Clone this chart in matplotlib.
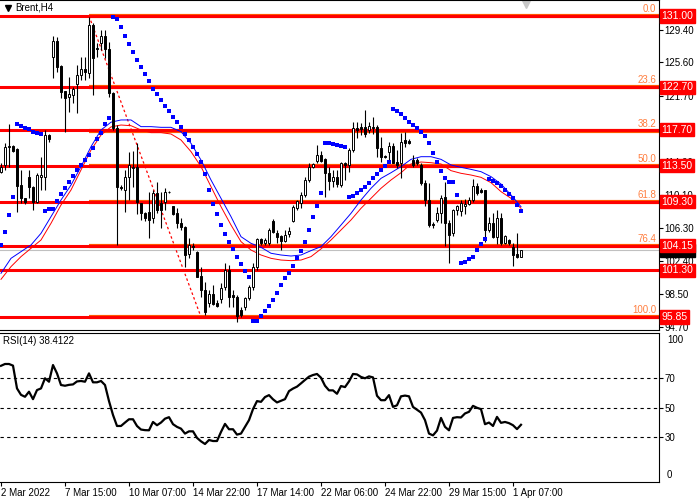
import matplotlib
matplotlib.use("Agg")
import matplotlib.pyplot as plt
import matplotlib.transforms as mtransforms
from matplotlib.patches import Rectangle

plt.rcParams['font.family'] = ['Liberation Sans', 'DejaVu Sans']

# H4 candles, one row per bar: open, high, low, close
opens = [112.82, 113.60, 115.74, 115.82, 115.43, 111.26, 109.71, 112.24, 111.07, 109.32,
         112.24, 112.24, 117.10, 126.25, 128.08, 125.16, 122.24, 121.58, 121.77, 123.06,
         124.07, 124.77, 124.38, 129.95, 127.22, 127.81, 128.66, 127.11, 122.05, 117.88,
         111.07, 110.68, 112.24, 113.21, 113.41, 109.12, 108.03, 108.15, 107.37, 110.29,
         109.12, 109.32, 110.49, 108.81, 108.03, 106.87, 106.40, 103.21, 104.10, 103.48,
         100.60, 99.00, 97.45, 98.54, 97.52, 97.91, 99.31, 101.34, 98.38, 98.22,
         96.67, 96.98, 98.03, 99.39, 101.73, 104.92, 104.45, 104.45, 107.10, 105.70,
         105.31, 104.76, 105.54, 107.10, 108.54, 109.20, 110.06, 111.85, 113.41, 114.11,
         114.73, 114.26, 112.63, 111.77, 112.24, 111.26, 113.87, 113.60, 115.35, 117.88,
         118.00, 118.08, 117.69, 118.08, 118.08, 115.55, 114.65, 115.16, 115.82, 113.99,
         113.80, 116.52, 116.40, 114.18, 114.18, 113.60, 111.46, 109.51, 106.70, 107.18,
         107.96, 109.90, 106.86, 105.62, 108.34, 108.23, 108.80, 109.10, 109.51, 111.15,
         110.70, 110.68, 106.01, 106.79, 105.23, 107.37, 104.50, 104.84, 104.06, 103.20,
         102.90]
highs = [113.79, 116.13, 118.40, 115.90, 115.60, 113.02, 109.80, 113.02, 111.20, 112.63,
         114.57, 117.69, 117.20, 128.66, 128.59, 125.28, 122.30, 123.92, 122.75, 125.28,
         126.25, 126.25, 130.90, 130.20, 127.81, 129.37, 129.37, 128.00, 122.10, 118.27,
         111.26, 113.02, 115.16, 115.27, 116.13, 109.20, 108.15, 110.49, 110.68, 111.65,
         110.49, 110.88, 110.60, 108.85, 108.54, 107.37, 106.50, 105.04, 104.45, 103.60,
         101.73, 99.98, 99.00, 99.59, 97.84, 99.86, 102.12, 101.92, 99.00, 98.40,
         97.06, 98.22, 99.55, 102.12, 105.11, 105.10, 105.04, 106.20, 107.26, 106.01,
         105.43, 106.01, 106.40, 108.93, 109.51, 110.49, 112.24, 113.79, 113.79, 115.94,
         115.20, 114.38, 113.41, 113.02, 113.02, 113.99, 113.99, 115.55, 118.66, 118.66,
         118.47, 120.02, 118.66, 119.17, 118.27, 116.91, 114.75, 116.33, 116.13, 115.35,
         117.30, 117.50, 116.60, 114.77, 114.40, 113.80, 111.85, 111.46, 107.00, 108.70,
         110.10, 111.65, 107.18, 108.50, 108.93, 109.51, 109.60, 109.90, 111.93, 111.50,
         110.90, 110.70, 107.57, 107.96, 108.34, 107.96, 105.40, 105.00, 104.45, 105.70,
         103.70]
lows = [112.63, 113.02, 113.41, 115.16, 108.15, 109.12, 109.05, 109.71, 108.35, 109.12,
        110.68, 110.68, 116.33, 123.72, 124.50, 121.39, 117.41, 119.83, 120.80, 119.63,
        123.53, 123.53, 123.72, 121.77, 126.25, 127.03, 126.06, 121.58, 117.70, 104.26,
        110.68, 108.15, 109.51, 111.07, 107.88, 107.18, 107.10, 105.04, 106.79, 107.96,
        106.20, 108.35, 110.30, 107.80, 106.20, 106.01, 101.73, 102.70, 103.67, 100.50,
        98.22, 96.08, 97.06, 97.25, 97.06, 97.45, 99.00, 97.06, 97.06, 95.31,
        95.89, 96.67, 97.84, 99.00, 101.34, 104.20, 104.26, 104.26, 105.62, 104.45,
        103.67, 104.65, 105.23, 106.98, 108.35, 108.54, 109.90, 111.65, 113.21, 113.79,
        113.99, 109.90, 110.68, 111.07, 111.07, 111.07, 111.85, 112.82, 115.16, 116.72,
        117.10, 116.91, 117.30, 117.22, 114.57, 113.99, 114.40, 113.79, 113.79, 113.20,
        112.05, 115.74, 116.00, 113.40, 113.60, 111.30, 108.80, 106.40, 106.30, 107.00,
        106.80, 104.10, 102.10, 105.30, 107.76, 107.64, 107.90, 108.90, 109.30, 110.10,
        110.30, 104.64, 105.80, 105.04, 104.37, 104.26, 104.40, 104.20, 101.84, 102.70,
        102.80]
closes = [113.41, 115.74, 115.82, 115.27, 111.19, 109.71, 109.32, 111.07, 109.32, 112.43,
          112.43, 117.10, 116.64, 128.08, 125.08, 122.16, 121.39, 121.89, 122.51, 124.11,
          124.77, 124.42, 129.95, 126.06, 127.15, 128.66, 127.11, 121.97, 117.88, 111.07,
          110.88, 112.24, 113.60, 113.41, 109.32, 107.96, 107.37, 107.18, 110.29, 108.35,
          108.35, 110.49, 110.45, 107.88, 106.79, 106.32, 103.09, 104.26, 104.07, 100.56,
          99.00, 96.47, 98.54, 97.37, 97.17, 99.20, 101.34, 98.22, 98.22, 96.01,
          96.08, 98.03, 99.39, 101.73, 104.92, 104.45, 104.84, 106.01, 105.81, 105.23,
          104.76, 105.43, 105.93, 108.73, 109.44, 110.06, 111.85, 113.41, 113.70, 114.77,
          114.11, 112.63, 111.77, 112.24, 111.38, 113.79, 113.60, 115.35, 117.88, 117.69,
          117.77, 117.22, 118.16, 117.88, 115.55, 114.57, 114.50, 115.82, 113.87, 113.60,
          116.30, 116.13, 116.20, 113.60, 113.80, 111.46, 109.51, 106.59, 106.60, 107.96,
          109.71, 106.86, 105.42, 108.34, 108.80, 109.13, 109.10, 109.50, 111.15, 110.29,
          110.50, 106.01, 106.79, 105.23, 107.37, 104.45, 105.30, 104.45, 103.04, 102.80,
          103.63]

# Parabolic SAR, one dot per bar
sar = [104.30, 105.80, 107.76, 109.83,
       118.40, 118.15, 117.92, 117.84, 117.45, 117.30, 117.18,
       108.23, 108.46, 108.46, 109.36, 110.21, 110.91, 111.61, 112.32, 112.98, 113.60,
       114.22, 114.81, 115.59, 116.64, 117.30, 118.35, 119.05,
       130.90, 130.70, 129.75, 128.66, 127.73, 126.80, 125.86, 125.00, 124.23, 123.41,
       122.47, 121.89, 121.19, 120.49, 119.91, 119.20, 118.62, 118.00,
       117.20, 116.50, 115.70, 114.90, 113.90, 112.60, 110.70, 109.10, 107.90, 106.60,
       105.60, 104.60, 103.80, 102.90, 102.00, 101.20, 100.50,
       95.35, 95.40, 96.00, 96.50, 97.10, 97.80, 98.70, 99.60, 100.40, 101.00,
       101.80, 102.70, 103.60, 104.60, 106.00, 107.50, 108.80, 110.30,
       116.13, 116.13, 116.05, 115.94, 115.82, 115.74,
       109.83, 109.98, 110.29, 110.68, 111.07, 111.54, 112.04, 112.55, 113.02, 113.50, 113.90,
       120.10, 119.94, 119.52, 119.09, 118.66, 118.27, 117.88, 117.42, 116.99, 116.20,
       115.04, 113.99, 112.90, 112.04, 111.65, 111.65, 110.10,
       102.12, 102.24, 102.59, 102.90, 103.67, 104.37, 104.99,
       111.97, 111.73, 111.54, 111.15, 110.68, 110.21, 109.71, 108.89, 108.23]

# moving averages read every 2.5 bars
ma_x = [i * 2.5 for i in range(53)]
ma_blue = [100.95, 102.70, 103.48, 104.26, 105.62, 107.57, 109.51, 111.26, 113.41, 115.74,
           117.69, 118.60, 118.86, 118.86, 118.08, 118.08, 118.00, 118.00, 117.49, 116.13,
           114.18, 111.85, 109.71, 107.57, 105.23, 104.45, 103.99, 103.29, 103.09, 102.97,
           103.09, 103.60, 104.07, 105.23, 106.59, 107.96, 109.51, 110.88, 112.04, 112.70,
           113.41, 114.26, 114.57, 114.57, 114.26, 113.60, 113.33, 113.09, 112.82, 112.24,
           111.38, 110.10, 108.73]
ma_red = [100.25, 101.73, 102.90, 103.87, 104.84, 106.79, 108.93, 110.68, 113.02, 115.35,
          117.10, 118.05, 118.27, 118.19, 117.69, 117.38, 117.38, 117.22, 116.52, 115.16,
          113.41, 111.07, 108.73, 106.59, 104.65, 103.67, 103.09, 102.70, 102.50, 102.43,
          102.50, 102.90, 103.80, 104.84, 106.01, 107.18, 108.54, 109.71, 110.88, 111.85,
          112.70, 113.72, 113.95, 113.87, 113.72, 112.94, 112.63, 112.43, 112.16, 111.54,
          110.49, 109.71, 108.54]

rsi = [78.0, 79.2, 79.2, 78.1, 62.8, 58.5, 57.2, 60.6, 55.6, 61.7,
       62.8, 69.6, 67.3, 78.5, 72.9, 65.1, 64.6, 65.2, 65.5, 67.5,
       67.8, 67.3, 72.9, 66.9, 66.9, 67.8, 65.1, 54.3, 45.0, 37.6,
       37.6, 39.9, 42.1, 42.1, 37.6, 35.2, 34.8, 34.7, 40.3, 38.1,
       39.9, 42.5, 43.5, 38.8, 37.0, 35.8, 32.5, 34.0, 34.0, 29.6,
       27.3, 25.5, 28.2, 27.5, 27.5, 33.6, 39.0, 35.4, 35.4, 31.8,
       32.5, 37.0, 41.5, 48.9, 54.3, 53.8, 57.0, 58.3, 55.5, 53.4,
       54.5, 55.6, 61.0, 62.7, 64.0, 66.2, 68.5, 70.7, 71.8, 72.5,
       70.0, 64.6, 61.5, 61.5, 59.2, 64.4, 63.7, 67.5, 72.5, 72.2,
       70.5, 69.6, 70.9, 70.2, 57.9, 54.9, 54.9, 58.3, 50.4, 51.5,
       57.5, 58.0, 57.5, 50.4, 48.5, 46.6, 41.5, 32.5, 31.3, 34.5,
       43.0, 37.0, 34.7, 43.0, 43.5, 43.3, 46.0, 47.1, 51.1, 49.8,
       48.9, 38.8, 39.9, 37.6, 43.7, 39.7, 40.3, 39.5, 38.1, 35.5,
       38.4]

level_prices = [131.00, 122.70, 117.70, 113.50, 109.30, 104.15, 101.30, 95.85]
fib_names = ['0.0', '23.6', '38.2', '50.0', '61.8', '76.4', '100.0']
fib_ratios = [0.0, 0.236, 0.382, 0.5, 0.618, 0.764, 1.0]
fib_high, fib_low = 131.00, 95.85
fib_start, fib_end = 22, 50
price_ticks = [129.40, 125.60, 121.70, 117.90, 114.00, 110.10, 106.30, 102.40, 98.50, 94.70]
last_price = 103.63
date_pos = [0, 16, 32, 48, 64, 80, 96, 112, 128]
date_labels = ['2 Mar 2022', '7 Mar 15:00', '10 Mar 07:00', '14 Mar 22:00', '17 Mar 14:00',
               '22 Mar 06:00', '24 Mar 22:00', '29 Mar 15:00', '1 Apr 07:00']

fig = plt.figure(figsize=(7, 5), dpi=100)
right = 659 / 700
ax = fig.add_axes([0, 0.34, right, 0.66])
ax2 = fig.add_axes([0, 0.036, right, 0.298], sharex=ax)

# main price panel
ax.axhline(last_price, color='#c0c0c0', lw=0.8, zorder=1)
for r in fib_ratios:
    ax.hlines(fib_high - r * (fib_high - fib_low), fib_start, 170, color='#ff5a00', lw=3, zorder=1.5)
for p in level_prices:
    ax.axhline(p, color='#ff0000', lw=2.2, zorder=1.6)
ax.plot([fib_start, fib_end], [fib_high, fib_low], color='red', lw=0.9, ls=(0, (2, 2)), zorder=1.7)

ax.plot(ma_x, ma_blue, color='#0000ff', lw=0.7, zorder=2)
ax.plot(ma_x, ma_red, color='#ff0000', lw=0.7, zorder=2)

for i in range(len(opens)):
    o, h, l, c = opens[i], highs[i], lows[i], closes[i]
    ax.vlines(i, l, h, color='black', lw=0.8, zorder=3)
    bottom = min(o, c)
    ht = max(abs(c - o), 0.02)
    fc = 'white' if c >= o else 'black'
    ax.add_patch(Rectangle((i - 0.3, bottom), 0.6, ht, facecolor=fc,
                           edgecolor='black', lw=0.7, zorder=3.2))

ax.plot(range(len(sar)), sar, 's', color='#0000ff', ms=2.6, mew=0, zorder=3.5)

ax.set_xlim(-0.25, 164.5)
ax.set_ylim(94.33, 132.87)
ax.yaxis.tick_right()
ax.set_yticks(price_ticks)
# the 117.90 label sits fully under the 117.70 price box, as in the reference
ax.set_yticklabels(['' if t == 117.90 else '%.2f' % t for t in price_ticks])
ax.tick_params(axis='y', labelsize=7, length=3, pad=1, direction='out')
ax.tick_params(axis='x', bottom=False, labelbottom=False)
ax.spines['left'].set_visible(False)

trans = mtransforms.blended_transform_factory(ax.transAxes, ax.transData)
for r, name in zip(fib_ratios, fib_names):
    ax.text(0.996, fib_high - r * (fib_high - fib_low) + 0.25, name, transform=trans,
            ha='right', va='bottom', fontsize=7, color='#ff7f40', zorder=4)
ax.text(1.004, last_price, '%.2f' % last_price, transform=trans, ha='left', va='center',
        fontsize=7.5, color='white', clip_on=False, zorder=4,
        bbox=dict(boxstyle='square,pad=0.15', fc='black', ec='black'))
for p in level_prices:
    ax.text(1.004, p, '%.2f' % p, transform=trans, ha='left', va='center', fontsize=7.5,
            color='white', clip_on=False, zorder=5,
            bbox=dict(boxstyle='square,pad=0.15', fc='#ff0000', ec='#ff0000'))

ax.plot([0.012], [0.976], marker='v', ms=4, color='black', transform=ax.transAxes, clip_on=False)
ax.text(0.023, 0.976, 'Brent,H4', transform=ax.transAxes, ha='left', va='center', fontsize=7)
ax.plot([131.25], [0.99], marker='v', ms=7, color='#c8c8c8',
        transform=mtransforms.blended_transform_factory(ax.transData, ax.transAxes), clip_on=False)

# RSI panel
for lvl in (30, 50, 70):
    ax2.axhline(lvl, color='black', lw=0.8, ls=(0, (3, 3)))
ax2.plot(range(len(rsi)), rsi, color='black', lw=1.6)
ax2.set_ylim(0, 100)
ax2.yaxis.tick_right()
ax2.set_yticks([30, 50, 70])
ax2.tick_params(axis='y', labelsize=7, length=3, pad=1)
rsi_trans = mtransforms.blended_transform_factory(ax2.transAxes, ax2.transData)
ax2.text(1.012, 95, '100', transform=rsi_trans, ha='left', va='center', fontsize=7, clip_on=False)
ax2.text(1.012, 5, '0', transform=rsi_trans, ha='left', va='center', fontsize=7, clip_on=False)
ax2.text(0.005, 0.946, 'RSI(14) %.4f' % 38.4122, transform=ax2.transAxes, ha='left', va='center', fontsize=7)
ax2.spines['left'].set_visible(False)
ax2.set_xticks(date_pos)
ax2.set_xticklabels(date_labels)
ax2.tick_params(axis='x', labelsize=7, length=3, pad=1)
plt.setp(ax2.get_xticklabels(), ha='left')

fig.savefig('out.png', dpi=100)
